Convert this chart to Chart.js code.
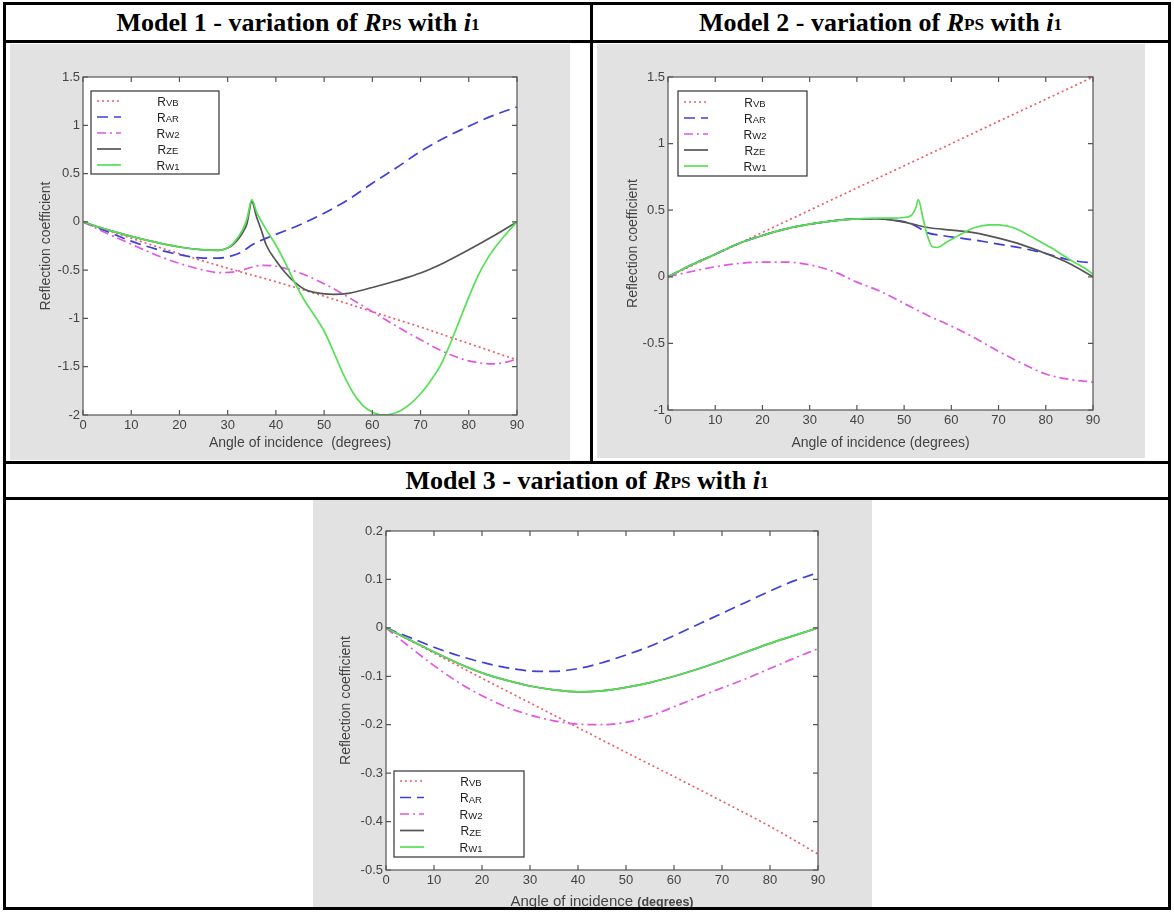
<!DOCTYPE html>
<html>
<head>
<meta charset="utf-8">
<title>Variation of R_PS with i_1</title>
<script src="https://cdn.jsdelivr.net/npm/chart.js@4.4.1/dist/chart.umd.min.js"></script>
<style>
  html, body { margin: 0; padding: 0; background: #fff; }
  body { width: 1174px; height: 913px; position: relative; overflow: hidden;
         font-family: "Liberation Serif", "Times New Roman", serif; }
  .rule { position: absolute; background: #000; }
  .head { position: absolute; display: flex; align-items: center; justify-content: center;
          font-weight: bold; font-size: 26px; line-height: 1; color: #000; white-space: nowrap; }
  .head .sub { font-size: 0.66em; position: relative; top: 0.14em; }
  .panel { position: absolute; background: #e2e2e2; }
  .panel canvas { position: absolute; left: 0; top: 0; }
</style>
</head>
<body>

<!-- table rules -->
<div class="rule" style="left:3px;top:2px;width:1168px;height:3px"></div>
<div class="rule" style="left:3px;top:907px;width:1168px;height:3px"></div>
<div class="rule" style="left:3px;top:2px;width:3px;height:908px"></div>
<div class="rule" style="left:1168px;top:2px;width:3px;height:908px"></div>
<div class="rule" style="left:3px;top:40px;width:1168px;height:3px"></div>
<div class="rule" style="left:590px;top:2px;width:3px;height:462px"></div>
<div class="rule" style="left:3px;top:461px;width:1168px;height:3px"></div>
<div class="rule" style="left:3px;top:497px;width:1168px;height:3px"></div>

<div class="head" style="left:6px;top:5px;width:584px;height:35px">Model 1 - variation of&nbsp;<i>R</i><span class="sub">PS</span>&nbsp;with&nbsp;<i>i</i><span class="sub">1</span></div>
<div class="head" style="left:593px;top:5px;width:575px;height:35px">Model 2 - variation of&nbsp;<i>R</i><span class="sub">PS</span>&nbsp;with&nbsp;<i>i</i><span class="sub">1</span></div>
<div class="head" style="left:6px;top:464px;width:1162px;height:33px">Model 3 - variation of&nbsp;<i>R</i><span class="sub">PS</span>&nbsp;with&nbsp;<i>i</i><span class="sub">1</span></div>

<div class="panel" style="left:10px;top:44px;width:560px;height:416px"><canvas id="m1" width="560" height="416"></canvas></div>
<div class="panel" style="left:597px;top:44px;width:548px;height:414px"><canvas id="m2" width="548" height="414"></canvas></div>
<div class="panel" style="left:313px;top:500px;width:559px;height:407px"><canvas id="m3" width="559" height="407"></canvas></div>

<script>
// ---- data: [angle of incidence (deg), reflection coefficient] ----
const ANGLE_TICKS = [0, 10, 20, 30, 40, 50, 60, 70, 80, 90];
const SERIES_KEYS = ['VB', 'AR', 'W2', 'ZE', 'W1'];

// Model 1
const M1_YTICKS = [-2, -1.5, -1, -0.5, 0, 0.5, 1, 1.5];
const M1_RVB = [[0,0],[10,-0.17],[20,-0.33],[30,-0.48],[40,-0.62],[50,-0.77],[60,-0.93],[70,-1.09],[80,-1.26],[90,-1.43]];
const M1_RAR = [[0,0],[5,-0.1],[10,-0.2],[15,-0.28],[20,-0.34],[25,-0.375],[28,-0.375],[31,-0.35],[33,-0.31],[35,-0.24],[37,-0.19],[40,-0.13],[45,-0.03],[50,0.09],[55,0.23],[60,0.4],[65,0.56],[70,0.73],[75,0.87],[80,0.99],[85,1.1],[90,1.19]];
const M1_RW2 = [[0,0],[5,-0.12],[10,-0.23],[15,-0.34],[20,-0.43],[25,-0.5],[28,-0.525],[31,-0.52],[33,-0.5],[35,-0.47],[37,-0.45],[40,-0.46],[45,-0.53],[50,-0.64],[55,-0.78],[60,-0.93],[65,-1.08],[70,-1.22],[75,-1.35],[80,-1.44],[85,-1.47],[88,-1.45],[90,-1.42]];
const M1_RZE = [[0,0],[5,-0.08],[10,-0.15],[15,-0.21],[20,-0.26],[25,-0.29],[28,-0.295],[30,-0.27],[31,-0.24],[32,-0.19],[33,-0.12],[34,-0.02],[35,0.21],[36,0.05],[37,-0.09],[38,-0.24],[40,-0.4],[42,-0.53],[44,-0.63],[46,-0.7],[48,-0.73],[50,-0.745],[52,-0.75],[55,-0.74],[60,-0.68],[65,-0.61],[70,-0.53],[75,-0.42],[80,-0.29],[85,-0.15],[90,0]];
const M1_RW1 = [[0,0],[5,-0.08],[10,-0.15],[15,-0.21],[20,-0.26],[25,-0.29],[28,-0.295],[30,-0.27],[31,-0.23],[32,-0.17],[33,-0.09],[34,0.03],[35,0.23],[36,0.1],[38,-0.08],[40,-0.24],[42,-0.43],[44,-0.64],[46,-0.82],[48,-0.97],[50,-1.13],[52,-1.35],[54,-1.58],[56,-1.77],[58,-1.9],[60,-1.97],[62,-2.0],[64,-1.99],[66,-1.95],[68,-1.88],[70,-1.78],[72,-1.65],[74,-1.5],[76,-1.28],[78,-1.03],[80,-0.78],[82,-0.55],[84,-0.37],[86,-0.23],[88,-0.11],[90,0]];

// Model 2
const M2_YTICKS = [-1, -0.5, 0, 0.5, 1, 1.5];
const M2_RVB = [[0,0],[10,0.167],[20,0.333],[30,0.5],[40,0.667],[50,0.833],[60,1.0],[70,1.167],[80,1.333],[90,1.5]];
const M2_RAR = [[0,0],[5,0.09],[10,0.17],[15,0.25],[20,0.31],[25,0.36],[30,0.395],[35,0.42],[40,0.435],[45,0.435],[48,0.425],[51,0.405],[53,0.37],[55,0.33],[58,0.31],[62,0.29],[66,0.27],[70,0.245],[75,0.215],[80,0.175],[84,0.135],[87,0.115],[90,0.105]];
const M2_RW2 = [[0,0],[5,0.04],[10,0.075],[15,0.1],[20,0.11],[25,0.11],[30,0.09],[35,0.04],[40,-0.04],[45,-0.11],[50,-0.2],[55,-0.29],[60,-0.37],[65,-0.46],[70,-0.56],[75,-0.65],[80,-0.73],[85,-0.77],[90,-0.79]];
const M2_RZE = [[0,0],[5,0.09],[10,0.17],[15,0.25],[20,0.31],[25,0.36],[30,0.395],[35,0.42],[40,0.435],[45,0.435],[50,0.41],[53,0.385],[55,0.37],[60,0.35],[65,0.33],[70,0.29],[75,0.24],[80,0.175],[85,0.1],[90,0]];
const M2_RW1 = [[0,0],[5,0.09],[10,0.17],[15,0.25],[20,0.31],[25,0.36],[30,0.395],[35,0.42],[40,0.435],[45,0.44],[48,0.44],[50,0.445],[51.5,0.46],[52.5,0.52],[53,0.58],[54,0.44],[55,0.3],[56,0.225],[57,0.22],[59,0.26],[62,0.32],[65,0.37],[68,0.39],[70,0.39],[73,0.37],[76,0.32],[79,0.26],[82,0.2],[85,0.13],[88,0.07],[90,0.02]];

// Model 3
const M3_YTICKS = [-0.5, -0.4, -0.3, -0.2, -0.1, 0, 0.1, 0.2];
const M3_RVB = [[0,0],[10,-0.052],[20,-0.104],[30,-0.155],[40,-0.206],[50,-0.257],[60,-0.307],[70,-0.358],[80,-0.41],[90,-0.467]];
const M3_RAR = [[0,0],[5,-0.02],[10,-0.04],[15,-0.057],[20,-0.071],[25,-0.082],[30,-0.089],[35,-0.09],[40,-0.084],[45,-0.072],[50,-0.056],[55,-0.038],[60,-0.016],[65,0.007],[70,0.03],[75,0.053],[80,0.076],[85,0.097],[90,0.114]];
const M3_RW2 = [[0,0],[5,-0.04],[10,-0.078],[15,-0.112],[20,-0.14],[25,-0.163],[30,-0.18],[35,-0.192],[40,-0.199],[45,-0.2],[50,-0.195],[55,-0.182],[60,-0.163],[65,-0.143],[70,-0.124],[75,-0.105],[80,-0.084],[85,-0.063],[90,-0.043]];
const M3_RZE = [[0,0],[5,-0.025],[10,-0.05],[15,-0.073],[20,-0.093],[25,-0.108],[30,-0.12],[35,-0.128],[40,-0.132],[45,-0.13],[50,-0.123],[55,-0.113],[60,-0.1],[65,-0.085],[70,-0.068],[75,-0.05],[80,-0.032],[85,-0.016],[90,0]];
const M3_RW1 = [[0,0],[5,-0.025],[10,-0.05],[15,-0.073],[20,-0.093],[25,-0.108],[30,-0.12],[35,-0.128],[40,-0.132],[45,-0.13],[50,-0.123],[55,-0.113],[60,-0.1],[65,-0.085],[70,-0.068],[75,-0.05],[80,-0.032],[85,-0.016],[90,0]];

// ---- line styles (MATLAB-like) ----
const STYLES = {
  VB: { color: '#ef5c68', dash: [2, 3],        width: 1.7, order: 5 },
  AR: { color: '#3f3fdc', dash: [11, 6],       width: 1.7, order: 4 },
  W2: { color: '#e257e2', dash: [9, 4, 2, 4],  width: 1.7, order: 3 },
  ZE: { color: '#555555', dash: [],            width: 1.7, order: 2 },
  W1: { color: '#55e055', dash: [],            width: 1.7, order: 1 }
};

const SANS = '"Liberation Sans", Arial, Helvetica, sans-serif';
const AXIS_COLOR = '#555';
const TEXT_COLOR = '#444';

// white plot area, boxed axes with inward ticks, and an inset legend
const matlabAxes = {
  id: 'matlabAxes',
  beforeDraw(chart) {
    const { ctx, chartArea: a } = chart;
    ctx.save();
    ctx.fillStyle = '#fff';
    ctx.fillRect(a.left, a.top, a.right - a.left, a.bottom - a.top);
    ctx.restore();
  },
  afterDraw(chart, args, opts) {
    const { ctx, chartArea: a, scales } = chart;
    ctx.save();
    ctx.strokeStyle = AXIS_COLOR;
    ctx.lineWidth = 1.2;
    ctx.strokeRect(a.left, a.top, a.right - a.left, a.bottom - a.top);
    const tl = 5;
    ctx.beginPath();
    scales.x.ticks.forEach(t => {
      const px = scales.x.getPixelForValue(t.value);
      ctx.moveTo(px, a.bottom); ctx.lineTo(px, a.bottom - tl);
      ctx.moveTo(px, a.top);    ctx.lineTo(px, a.top + tl);
    });
    scales.y.ticks.forEach(t => {
      const py = scales.y.getPixelForValue(t.value);
      ctx.moveTo(a.left, py);  ctx.lineTo(a.left + tl, py);
      ctx.moveTo(a.right, py); ctx.lineTo(a.right - tl, py);
    });
    ctx.stroke();

    // legend box
    const L = opts.legend;
    const lx = a.left + L.dx;
    const ly = L.anchor === 'top' ? a.top + L.dy : a.bottom - L.dy - L.h;
    ctx.fillStyle = '#fff';
    ctx.fillRect(lx, ly, L.w, L.h);
    ctx.strokeStyle = '#333';
    ctx.lineWidth = 1.2;
    ctx.strokeRect(lx, ly, L.w, L.h);
    chart.data.datasets.forEach((ds, i) => {
      const yy = ly + L.first + i * L.step;
      ctx.save();
      ctx.strokeStyle = ds.borderColor;
      ctx.lineWidth = ds.borderWidth;
      ctx.setLineDash(ds.borderDash);
      ctx.beginPath();
      ctx.moveTo(lx + 6, yy); ctx.lineTo(lx + 30, yy);
      ctx.stroke();
      ctx.restore();
      const sub = ds.label.slice(1);
      ctx.fillStyle = '#222';
      ctx.textBaseline = 'alphabetic';
      ctx.textAlign = 'left';
      ctx.font = '12px ' + SANS;
      const wR = ctx.measureText('R').width;
      ctx.font = '9.5px ' + SANS;
      const wS = ctx.measureText(sub).width;
      const x0 = lx + L.textX - (wR + wS) / 2;
      ctx.font = '12px ' + SANS;
      ctx.fillText('R', x0, yy + 4.5);
      ctx.font = '9.5px ' + SANS;
      ctx.fillText(sub, x0 + wR, yy + 5);
    });

    // composite x-axis title (mixed fonts)
    if (opts.xTitleParts) {
      const parts = opts.xTitleParts;
      let total = 0;
      parts.forEach(p => { ctx.font = p.font; total += ctx.measureText(p.text).width; });
      let x = (a.left + a.right) / 2 - total / 2;
      const y = a.bottom + opts.xTitleOffset;
      ctx.fillStyle = TEXT_COLOR;
      ctx.textBaseline = 'alphabetic';
      ctx.textAlign = 'left';
      parts.forEach(p => { ctx.font = p.font; ctx.fillText(p.text, x, y); x += ctx.measureText(p.text).width; });
    }
    ctx.restore();
  }
};

function makeChart(id, spec) {
  const series = spec.series;
  const datasets = SERIES_KEYS.map((k, i) => ({
    label: 'R' + k,
    data: series[i].map(([x, y]) => ({ x, y })),
    borderColor: STYLES[k].color,
    borderWidth: STYLES[k].width,
    borderDash: STYLES[k].dash,
    order: STYLES[k].order,
    pointRadius: 0,
    fill: false,
    cubicInterpolationMode: 'monotone'
  }));
  const g = spec.geom;
  const tickFont = { family: SANS, size: 13 };
  return new Chart(document.getElementById(id), {
    type: 'line',
    data: { datasets },
    options: {
      responsive: false,
      animation: false,
      devicePixelRatio: 1,
      layout: { padding: { left: 0, top: g.top, right: g.right, bottom: 0 } },
      plugins: {
        legend: { display: false },
        tooltip: { enabled: false },
        matlabAxes: { legend: spec.legend, xTitleParts: spec.xTitleParts || null, xTitleOffset: spec.xTitleOffset || 0 }
      },
      scales: {
        x: {
          type: 'linear', min: 0, max: 90,
          afterBuildTicks: s => { s.ticks = ANGLE_TICKS.map(v => ({ value: v })); },
          afterFit: s => { s.height = g.bottom; },
          ticks: { font: tickFont, color: TEXT_COLOR, padding: 3, maxRotation: 0, autoSkip: false,
                   callback: v => String(v) },
          grid: { display: false, drawTicks: false, tickLength: 0 },
          border: { display: false },
          title: spec.xTitle ? { display: true, text: spec.xTitle, color: TEXT_COLOR,
                   font: { family: SANS, size: 14 }, padding: { top: 0, bottom: spec.xTitlePad } } : { display: false }
        },
        y: {
          type: 'linear', min: spec.yTicks[0], max: spec.yTicks[spec.yTicks.length - 1],
          afterBuildTicks: s => { s.ticks = spec.yTicks.map(v => ({ value: v })); },
          afterFit: s => { s.width = g.left; },
          ticks: { font: tickFont, color: TEXT_COLOR, padding: 3, autoSkip: false,
                   callback: v => String(v) },
          grid: { display: false, drawTicks: false, tickLength: 0 },
          border: { display: false },
          title: { display: true, text: 'Reflection coefficient', color: TEXT_COLOR,
                   font: { family: SANS, size: 14 }, padding: { top: spec.yTitlePad, bottom: 0 } }
        }
      }
    },
    plugins: [matlabAxes]
  });
}

makeChart('m1', {
  series: [M1_RVB, M1_RAR, M1_RW2, M1_RZE, M1_RW1],
  yTicks: M1_YTICKS,
  geom: { left: 73, right: 53, top: 33, bottom: 45 },
  legend: { anchor: 'top', dx: 8, dy: 14, w: 128, h: 83, first: 10, step: 16, textX: 77 },
  xTitle: 'Angle of incidence  (degrees)', xTitlePad: 8, yTitlePad: 28
});

makeChart('m2', {
  series: [M2_RVB, M2_RAR, M2_RW2, M2_RZE, M2_RW1],
  yTicks: M2_YTICKS,
  geom: { left: 71, right: 52, top: 33, bottom: 48 },
  legend: { anchor: 'top', dx: 10, dy: 14, w: 129, h: 85, first: 11, step: 16, textX: 77 },
  xTitle: 'Angle of incidence (degrees)', xTitlePad: 6, yTitlePad: 28
});

makeChart('m3', {
  series: [M3_RVB, M3_RAR, M3_RW2, M3_RZE, M3_RW1],
  yTicks: M3_YTICKS,
  geom: { left: 73, right: 54, top: 31, bottom: 37 },
  legend: { anchor: 'bottom', dx: 8, dy: 13, w: 130, h: 86, first: 10, step: 16.5, textX: 77 },
  xTitle: null, yTitlePad: 25,
  xTitleParts: [
    { text: 'Angle of incidence ', font: '15px ' + SANS },
    { text: '(degrees)', font: 'bold 12.5px ' + SANS }
  ],
  xTitleOffset: 36
});
</script>
</body>
</html>
